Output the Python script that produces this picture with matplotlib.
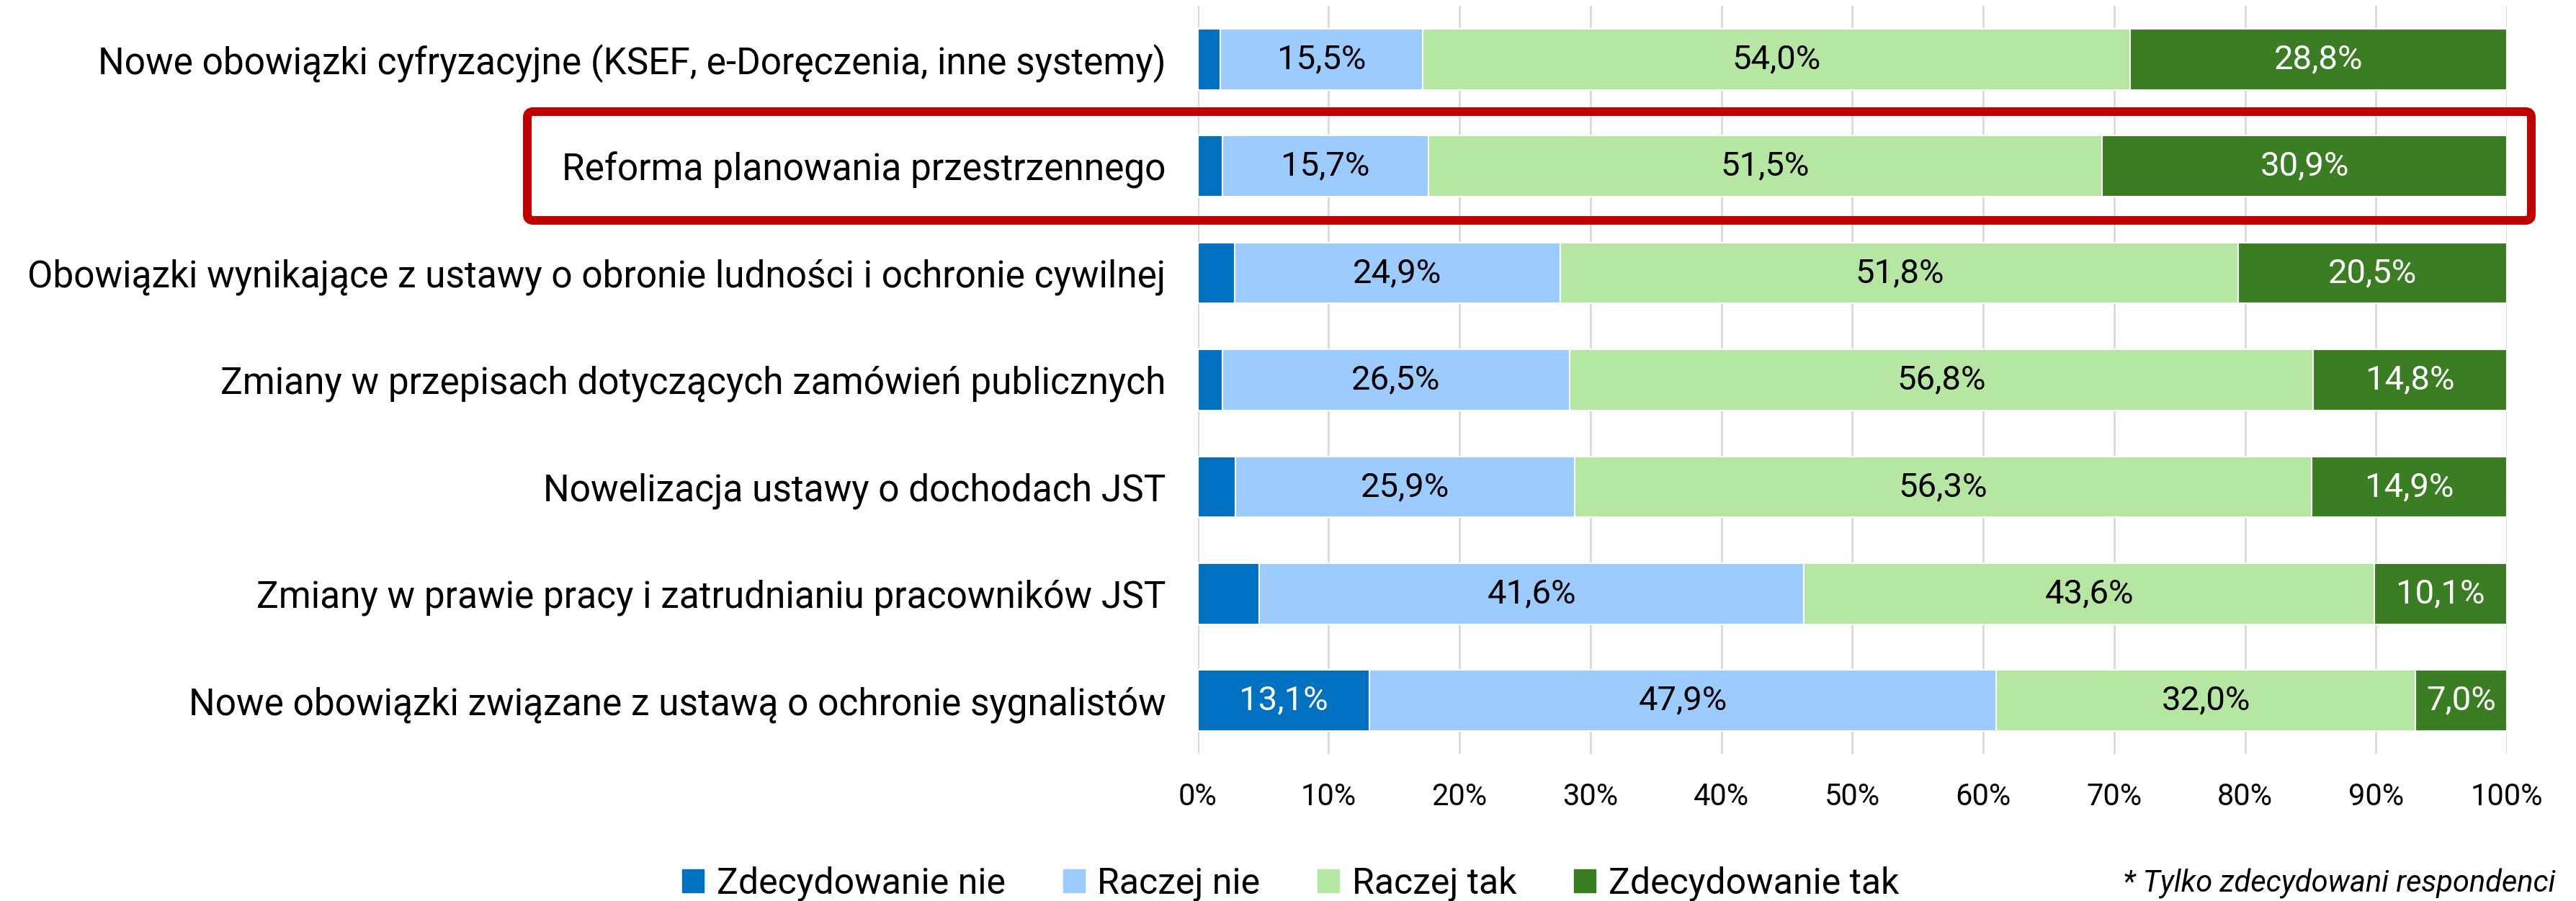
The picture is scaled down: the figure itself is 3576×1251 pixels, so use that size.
import numpy as np
import matplotlib
matplotlib.use("Agg")
import matplotlib.pyplot as plt
from matplotlib.patches import FancyBboxPatch, Patch
from matplotlib.transforms import IdentityTransform

categories = [
    "Nowe obowiązki cyfryzacyjne (KSEF, e-Doręczenia, inne systemy)",
    "Reforma planowania przestrzennego",
    "Obowiązki wynikające z ustawy o obronie ludności i ochronie cywilnej",
    "Zmiany w przepisach dotyczących zamówień publicznych",
    "Nowelizacja ustawy o dochodach JST",
    "Zmiany w prawie pracy i zatrudnianiu pracowników JST",
    "Nowe obowiązki związane z ustawą o ochronie sygnalistów",
]
series_names = ["Zdecydowanie nie", "Raczej nie", "Raczej tak", "Zdecydowanie tak"]
zdecydowanie_nie = [1.7, 1.9, 2.8, 1.9, 2.9, 4.7, 13.1]
raczej_nie = [15.5, 15.7, 24.9, 26.5, 25.9, 41.6, 47.9]
raczej_tak = [54.0, 51.5, 51.8, 56.8, 56.3, 43.6, 32.0]
zdecydowanie_tak = [28.8, 30.9, 20.5, 14.8, 14.9, 10.1, 7.0]
x_ticks = [0, 10, 20, 30, 40, 50, 60, 70, 80, 90, 100]
footnote = "* Tylko zdecydowani respondenci"

colors = ["#0070C0", "#9BCBFF", "#B5E6A2", "#3B7D23"]
text_colors = ["white", "black", "black", "white"]

plt.rcParams['font.family'] = ['Roboto', 'DejaVu Sans']

W, H = 3576, 1251
fig = plt.figure(figsize=(W / 100, H / 100), dpi=100)
ax = fig.add_axes([1662.7 / W, 1 - 1047 / H, (3480 - 1662.7) / W, (1047 - 8) / H])

y = np.arange(len(categories))
left = np.zeros(len(categories))
for name, vals, col, tcol in zip(series_names,
                                 [zdecydowanie_nie, raczej_nie, raczej_tak, zdecydowanie_tak],
                                 colors, text_colors):
    vals = np.array(vals)
    bars = ax.barh(y, vals, left=left, height=0.57, color=col,
                   edgecolor="white", linewidth=1.5, label=name, zorder=3)
    for b, v in zip(bars, vals):
        if v >= 5:
            ax.text(b.get_x() + b.get_width() / 2, b.get_y() + b.get_height() / 2,
                    f"{v:.1f}%".replace(".", ","), ha="center", va="center",
                    color=tcol, fontsize=34, zorder=4)
    left += vals

ax.set_xlim(0, 100)
ax.set_ylim(len(categories) - 0.5, -0.5)
ax.set_yticks(y)
ax.set_yticklabels(categories, fontsize=37)
ax.set_xticks(x_ticks)
ax.set_xticklabels([f"{t}%" for t in x_ticks], fontsize=30)
ax.tick_params(length=0)
ax.tick_params(axis="y", pad=32)
ax.tick_params(axis="x", pad=28)
ax.grid(axis="x", color="#D9D9D9", linewidth=2, zorder=0)
for s in ax.spines.values():
    s.set_visible(False)

# red highlight box around the second row (pixel coordinates)
bx0, bx1 = 732, 3514
by_top, by_bot = 155, 306
box = FancyBboxPatch((bx0, H - by_bot), bx1 - bx0, by_bot - by_top,
                     boxstyle="round,pad=0,rounding_size=8",
                     transform=IdentityTransform(), fill=False,
                     edgecolor="#C00000", linewidth=8.6, zorder=10)
fig.patches.append(box)

handles = [Patch(color=c, label=n) for c, n in zip(colors, series_names)]
fig.legend(handles=handles, loc="center", bbox_to_anchor=(0.501, 1 - 1227 / H),
           ncol=4, frameon=False, fontsize=36, handlelength=0.6,
           handleheight=0.6, handletextpad=0.35, columnspacing=1.6)
fig.text(0.992, 1 - 1227 / H, footnote, ha="right", va="center",
         fontsize=30, style="italic")

fig.savefig("out.png", dpi=100)
